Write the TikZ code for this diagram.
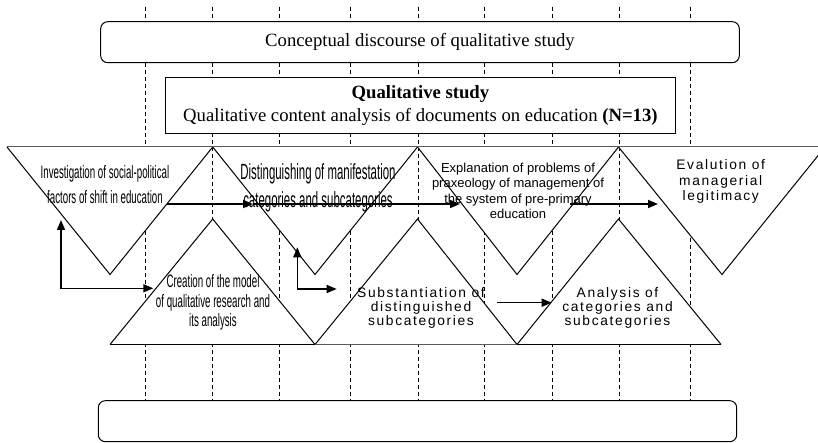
\documentclass[tikz,border=0pt]{standalone}
\usepackage{fontspec}
\setmainfont{Liberation Serif}
\newfontfamily\plainsans{Liberation Sans}
\newfontfamily\spacedsans[LetterSpace=12]{Liberation Sans}
\newfontfamily\narrowsans[FakeStretch=0.54]{Liberation Sans}
\newfontfamily\condsans[FakeStretch=0.52]{Liberation Sans}
\usetikzlibrary{arrows.meta}
\definecolor{ink}{HTML}{000000}
\definecolor{rule}{HTML}{5A5A5A}
\tikzset{>={Triangle[length=10pt,width=8pt]},
  every node/.style={inner sep=0pt,align=center,text=ink},
  grid/.style={draw=ink,dash pattern=on 4pt off 3pt,line width=.8pt},
  band/.style={draw=ink,fill=white,line width=1pt},
  panel/.style={draw=ink,fill=white,line width=1pt,rounded corners=7pt},
  flow/.style={draw=ink,line width=1.5pt},
  narrowtext/.style={font=\narrowsans\fontsize{18}{#1}\selectfont},
  spacedtext/.style={font=\spacedsans\fontsize{13.8}{#1}\selectfont}}

\begin{document}
\begin{tikzpicture}[x=1pt,y=-1pt]
\useasboundingbox(0,0)rectangle(818,443);
\clip(0,0)rectangle(818,443);
% guide lines behind everything
\foreach\x in{145.7,212.7,279.3,350.7,418.3,484.3,552.3,619,690.7}
  \draw[grid](\x,6.7)--(\x,400.7);
\node[panel,minimum width=638.6pt,minimum height=41pt,font=\fontsize{18.7}{22}\selectfont](discourse)at(420,42.2){Conceptual discourse of qualitative study};
\node[draw=ink,fill=white,line width=1pt,minimum width=509.3pt,minimum height=55.6pt,font=\fontsize{18.7}{22.3}\selectfont](study)at(420.4,105.5){\textbf{Qualitative study}\\Qualitative content analysis of documents on education \textbf{(N=13)}};
\node[panel,minimum width=638.4pt,minimum height=41pt](closing)at(417.5,421.2){};
% upper row of inverted triangles
\foreach\a/\b/\c in{7/110/212.7,212.7/315/417.5,417.5/517/618.5,618.5/722/825}
  \filldraw[band](\a,147)--(\b,274.5)--(\c,147);
\draw[rule,line width=1pt](7,147)--(818,147);
% lower row of triangles
\foreach\a/\b/\c/\col in{110/212.7/315/ink,315/417.5/517/rule,517/618.5/721/ink}{
  \filldraw[band](\a,344.5)--(\b,219)--(\c,344.5);
  \draw[\col,line width=1pt](\a,344.5)--(\c,344.5);}
\node[narrowtext=25](social)at(105,184.2){Investigation of social-political\\factors of shift in education};
\node[font=\condsans\fontsize{22}{28}\selectfont](manifest)at(318,187.5){Distinguishing of manifestation\\categories and subcategories};
\node[font=\plainsans\fontsize{13}{15.4}\selectfont](praxeology)at(518,191){Explanation of problems of\\praxeology of management of\\the system of pre-primary\\education};
\node[spacedtext=15.3](legitimacy)at(720.7,181.5){Evalution of\\managerial\\legitimacy};
\node[narrowtext=19.5](model)at(213,302.5){Creation of the model\\of qualitative research and\\its analysis};
\node[spacedtext=14.3](substant)at(421,308){Substantiation of\\distinguished\\subcategories};
\node[spacedtext=14.3](analysis)at(617.5,308){Analysis of\\categories and\\subcategories};
% arrow ends
\coordinate(social-out)at(167,204);
\coordinate(manifest-in)at(253,204);
\coordinate(praxeology-in)at(460,204);
\coordinate(praxeology-out)at(570,204);
\coordinate(legitimacy-in)at(658,204);
\coordinate(social-up)at(61,220);
\coordinate(model-in)at(153.3,288.3);
\coordinate(manifest-up)at(297.3,247.3);
\coordinate(substant-in)at(336.7,289);
\coordinate(substant-out)at(497.3,302.7);
\coordinate(analysis-in)at(551.7,302.7);
\draw[flow,->](social-out)--(manifest-in);
\draw[flow,->](manifest-in)--(praxeology-in);
\draw[flow,->](praxeology-out)--(legitimacy-in);
\draw[flow,<->](social-up)|-(model-in);
\draw[flow,<->](manifest-up)|-(substant-in);
\draw[flow,->](substant-out)--(analysis-in);
\end{tikzpicture}
\end{document}
